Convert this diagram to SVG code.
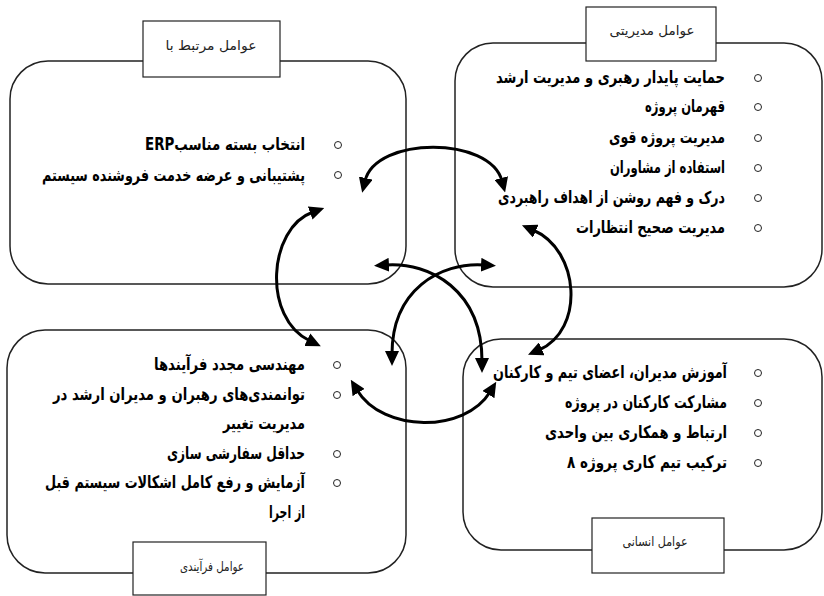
<svg xmlns="http://www.w3.org/2000/svg" width="824" height="596" viewBox="0 0 824 596">
<defs>
<style>
.box{fill:none;stroke:#222;stroke-width:1.5}
.lab{fill:#fff;stroke:#222;stroke-width:1.2}
.lt{font-family:"DejaVu Sans",sans-serif;font-size:13px;fill:#222;text-anchor:middle}
.bt{font-family:"DejaVu Sans",sans-serif;font-size:17px;font-weight:bold;fill:#000;direction:rtl;text-anchor:start}
.bul{fill:#fff;stroke:#222;stroke-width:1}
.con path{fill:none;stroke:#000;stroke-width:3;marker-start:url(#ah);marker-end:url(#ah)}
</style>
<marker id="ah" markerUnits="userSpaceOnUse" markerWidth="15" markerHeight="14" viewBox="0 0 15 14" refX="3" refY="7" orient="auto-start-reverse">
<path d="M0,0 L15,7 L0,14 z" fill="#000"/>
</marker>
</defs>
<rect width="824" height="596" fill="#fff"/>

<g id="node-related">
<rect class="box" x="10" y="61" width="396" height="223" rx="38" ry="38"/>
<rect class="lab" x="143" y="21" width="137" height="56"/>
<text class="lt" x="211" y="50" textLength="91" lengthAdjust="spacingAndGlyphs">عوامل مرتبط با</text>
<circle class="bul" cx="338" cy="145" r="3.5"/>
<circle class="bul" cx="338" cy="175" r="3.5"/>
<text class="bt" x="305" y="150" direction="rtl" textLength="160" lengthAdjust="spacingAndGlyphs">انتخاب بسته مناسبERP</text>
<text class="bt" x="305" y="181" direction="rtl" textLength="263" lengthAdjust="spacingAndGlyphs">پشتیبانی و عرضه خدمت فروشنده سیستم</text>
</g>

<g id="node-management">
<rect class="box" x="455" y="43" width="367" height="244" rx="38" ry="38"/>
<rect class="lab" x="586" y="7" width="130" height="54"/>
<text class="lt" x="652" y="35" textLength="85" lengthAdjust="spacingAndGlyphs">عوامل مدیریتی</text>
<circle class="bul" cx="758" cy="78" r="3.5"/>
<circle class="bul" cx="758" cy="107" r="3.5"/>
<circle class="bul" cx="758" cy="138" r="3.5"/>
<circle class="bul" cx="758" cy="168" r="3.5"/>
<circle class="bul" cx="758" cy="198" r="3.5"/>
<circle class="bul" cx="758" cy="228" r="3.5"/>
<text class="bt" x="725" y="83" direction="rtl" textLength="229" lengthAdjust="spacingAndGlyphs">حمایت پایدار رهبری و مدیریت ارشد</text>
<text class="bt" x="725" y="112" direction="rtl" textLength="80" lengthAdjust="spacingAndGlyphs">قهرمان پروژه</text>
<text class="bt" x="725" y="143" direction="rtl" textLength="116" lengthAdjust="spacingAndGlyphs">مدیریت پروژه قوی</text>
<text class="bt" x="725" y="173" direction="rtl" textLength="115" lengthAdjust="spacingAndGlyphs">استفاده از مشاوران</text>
<text class="bt" x="725" y="203" direction="rtl" textLength="227" lengthAdjust="spacingAndGlyphs">درک و فهم روشن از اهداف راهبردی</text>
<text class="bt" x="725" y="233" direction="rtl" textLength="149" lengthAdjust="spacingAndGlyphs">مدیریت صحیح انتظارات</text>
</g>

<g id="node-process">
<rect class="box" x="7" y="330" width="399" height="243" rx="38" ry="38"/>
<rect class="lab" x="133" y="542" width="133" height="53"/>
<text class="lt" x="212" y="571" textLength="64" lengthAdjust="spacingAndGlyphs">عوامل فرآیندی</text>
<circle class="bul" cx="337" cy="365" r="3.5"/>
<circle class="bul" cx="337" cy="395" r="3.5"/>
<circle class="bul" cx="337" cy="454" r="3.5"/>
<circle class="bul" cx="337" cy="483" r="3.5"/>
<text class="bt" x="305" y="370" direction="rtl" textLength="151" lengthAdjust="spacingAndGlyphs">مهندسی مجدد فرآیندها</text>
<text class="bt" x="305" y="400" direction="rtl" textLength="252" lengthAdjust="spacingAndGlyphs">توانمندی‌های رهبران و مدیران ارشد در</text>
<text class="bt" x="305" y="429" direction="rtl" textLength="82" lengthAdjust="spacingAndGlyphs">مدیریت تغییر</text>
<text class="bt" x="305" y="459" direction="rtl" textLength="138" lengthAdjust="spacingAndGlyphs">حداقل سفارشی سازی</text>
<text class="bt" x="305" y="488" direction="rtl" textLength="260" lengthAdjust="spacingAndGlyphs">آزمایش و رفع کامل اشکالات سیستم قبل</text>
<text class="bt" x="305" y="518" direction="rtl" textLength="36" lengthAdjust="spacingAndGlyphs">از اجرا</text>
</g>

<g id="node-human">
<rect class="box" x="463" y="339" width="359" height="211" rx="38" ry="38"/>
<rect class="lab" x="592" y="518" width="132" height="55"/>
<text class="lt" x="655" y="546" textLength="65" lengthAdjust="spacingAndGlyphs">عوامل انسانی</text>
<circle class="bul" cx="758" cy="373" r="3.5"/>
<circle class="bul" cx="758" cy="403" r="3.5"/>
<circle class="bul" cx="758" cy="433" r="3.5"/>
<circle class="bul" cx="758" cy="463" r="3.5"/>
<text class="bt" x="727" y="378" direction="rtl" textLength="234" lengthAdjust="spacingAndGlyphs">آموزش مدیران، اعضای تیم و کارکنان</text>
<text class="bt" x="727" y="408" direction="rtl" textLength="162" lengthAdjust="spacingAndGlyphs">مشارکت کارکنان در پروژه</text>
<text class="bt" x="727" y="438" direction="rtl" textLength="182" lengthAdjust="spacingAndGlyphs">ارتباط و همکاری بین واحدی</text>
<text class="bt" x="727" y="468" direction="rtl" textLength="160" lengthAdjust="spacingAndGlyphs">ترکیب تیم کاری پروژه ۸</text>
</g>

<g id="connectors" class="con">
<path d="M365,181 C376,136 490,136 502,181"/>
<path d="M313,212 C268,228 262,318 310,341"/>
<path d="M533,230 C580,250 585,330 539,350"/>
<path d="M357,390 C383,433 465,433 490,392"/>
<path d="M386,265 C430,262 482,290 482,361"/>
<path d="M484,265 C440,262 392,290 392,354"/>
</g>
</svg>
